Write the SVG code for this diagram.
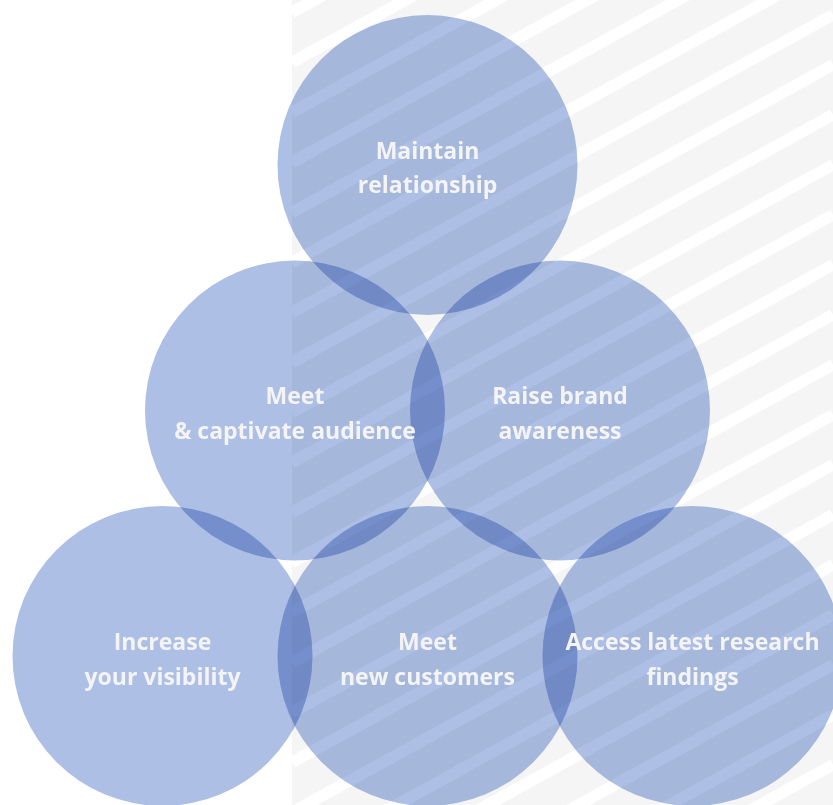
<svg xmlns="http://www.w3.org/2000/svg" width="833" height="805" viewBox="0 0 833 805">
  <defs>
    <style>
      .bubble { fill: #adbfe5; mix-blend-mode: multiply; }
      .label { font-family: "Open Sans", "Noto Sans", "Liberation Sans", sans-serif; font-weight: 700; font-size: 23px; fill: #f4f4f4; text-anchor: middle; }
      .stripe { stroke: #ffffff; stroke-width: 11.5; fill: none; }
    </style>
    <clipPath id="bgclip"><rect x="292" y="0" width="541" height="805"/></clipPath>
  </defs>
  <rect x="0" y="0" width="833" height="805" fill="#ffffff"/>
  <g id="background">
    <rect x="292" y="0" width="541" height="805" fill="#f5f5f5"/>
    <g clip-path="url(#bgclip)">
      <path class="stripe" d="M292 12.4L833 -285.2M292 62.4L833 -235.2M292 112.4L833 -185.2M292 162.4L833 -135.2M292 212.4L833 -85.2M292 262.4L833 -35.2M292 312.4L833 14.8M292 362.4L833 64.8M292 412.4L833 114.8M292 462.4L833 164.8M292 512.4L833 214.8M292 562.4L833 264.8M292 612.4L833 314.8M292 662.4L833 364.8M292 712.4L833 414.8M292 762.4L833 464.8M292 812.4L833 514.8M292 862.4L833 564.8M292 912.4L833 614.8M292 962.4L833 664.8M292 1012.4L833 714.8M292 1062.4L833 764.8M292 1112.4L833 814.8"/>
    </g>
  </g>
  <g id="node-maintain-relationship">
    <circle class="bubble" cx="427.5" cy="165" r="150"/>
    <text class="label" x="427.5" y="158.5">Maintain</text>
    <text class="label" x="427.5" y="192.5">relationship</text>
  </g>
  <g id="node-raise-brand-awareness">
    <circle class="bubble" cx="560" cy="410.5" r="150"/>
    <text class="label" x="560" y="404">Raise brand</text>
    <text class="label" x="560" y="438.5">awareness</text>
  </g>
  <g id="node-meet-captivate-audience">
    <circle class="bubble" cx="295" cy="410.5" r="150"/>
    <text class="label" x="295" y="404">Meet</text>
    <text class="label" x="295" y="438.5">&amp; captivate audience</text>
  </g>
  <g id="node-increase-visibility">
    <circle class="bubble" cx="162.5" cy="656" r="150"/>
    <text class="label" x="162.5" y="649.5">Increase</text>
    <text class="label" x="162.5" y="684.5">your visibility</text>
  </g>
  <g id="node-meet-new-customers">
    <circle class="bubble" cx="427.5" cy="656" r="150"/>
    <text class="label" x="427.5" y="649.5">Meet</text>
    <text class="label" x="427.5" y="684.5">new customers</text>
  </g>
  <g id="node-access-research">
    <circle class="bubble" cx="692.5" cy="656" r="150"/>
    <text class="label" x="692.5" y="649.5">Access latest research</text>
    <text class="label" x="692.5" y="684.5">findings</text>
  </g>
</svg>
